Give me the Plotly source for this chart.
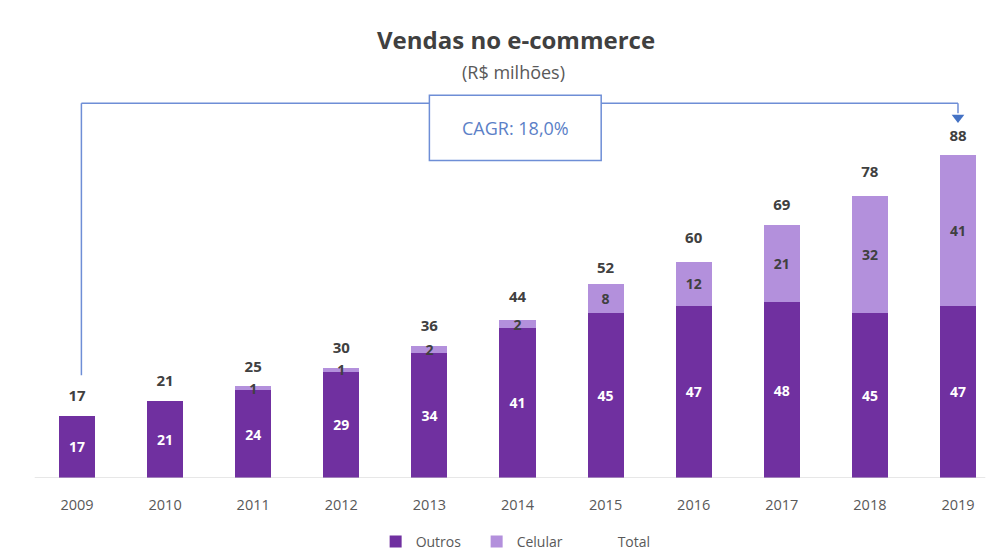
import plotly.graph_objects as go

# Vendas no e-commerce, R$ milhões
anos = [2009, 2010, 2011, 2012, 2013, 2014, 2015, 2016, 2017, 2018, 2019]
outros = [17, 21, 24, 29, 34, 41, 45, 47, 48, 45, 47]
celular = [0, 0, 1, 1, 2, 2, 8, 12, 21, 32, 41]
total = [17, 21, 25, 30, 36, 44, 52, 60, 69, 78, 88]
cagr_texto = "CAGR: 18,0%"

COR_OUTROS = "#7030A0"
COR_CELULAR = "#B390DC"
COR_LINHA = "#6E8ED6"
FONTE = "Open Sans"

# área do gráfico em pixels
ALTURA, MARGEM_T, MARGEM_B = 552, 60, 74
ALTURA_PLOT = ALTURA - MARGEM_T - MARGEM_B

fig = go.Figure()

fig.add_trace(go.Bar(
    x=anos, y=outros, name="Outros",
    marker=dict(color=COR_OUTROS, line=dict(width=0)),
    text=[str(v) for v in outros],
    textposition="inside", insidetextanchor="middle",
    textangle=0, constraintext="none",
    textfont=dict(color="white", size=14, family=FONTE, weight="bold"),
    width=0.41,
))

fig.add_trace(go.Bar(
    x=anos, y=celular, name="Celular",
    marker=dict(color=COR_CELULAR, line=dict(width=0)),
    text=[str(v) if v > 0 else "" for v in celular],
    textposition="inside", insidetextanchor="middle",
    textangle=0, constraintext="none",
    textfont=dict(color="#404040", size=14, family=FONTE, weight="bold"),
    width=0.41,
))

fig.add_trace(go.Scatter(
    x=anos, y=total, name="Total",
    mode="lines+markers+text",
    line=dict(width=0, color="rgba(0,0,0,0)"),
    marker=dict(size=16, opacity=0, color="white"),
    text=[str(v) for v in total],
    textposition="top center",
    textfont=dict(color="#404040", size=15, family=FONTE, weight="bold"),
    cliponaxis=False,
))

# linha de base do eixo
fig.add_shape(type="line", xref="x", yref="y",
              x0=anos[0] - 0.48, x1=anos[-1] + 0.31, y0=0, y1=0,
              line=dict(color="#D0D0D0", width=1.2))

# colchete do CAGR entre o primeiro e o último ano
topo = 102.2
fig.add_shape(type="line", xref="x", yref="y",
              x0=anos[0] + 0.05, x1=anos[0] + 0.05, y0=28, y1=topo,
              line=dict(color=COR_LINHA, width=1.5))
fig.add_shape(type="line", xref="x", yref="y",
              x0=anos[0] + 0.05, x1=anos[-1], y0=topo, y1=topo,
              line=dict(color=COR_LINHA, width=1.5))
fig.add_shape(type="line", xref="x", yref="y",
              x0=anos[-1], x1=anos[-1], y0=topo, y1=99.5,
              line=dict(color=COR_LINHA, width=1.5))
fig.add_trace(go.Scatter(
    x=[anos[-1]], y=[98.3], mode="markers", showlegend=False, hoverinfo="skip",
    marker=dict(symbol="triangle-down", size=11, color="#4472C4"),
    cliponaxis=False,
))
fig.add_shape(type="rect", xref="x", yref="y",
              x0=2013.0, x1=2014.95, y0=86.6, y1=104.4,
              line=dict(color=COR_LINHA, width=1.5), fillcolor="white")
fig.add_annotation(x=2013.975, y=95.5, xref="x", yref="y",
                   text=cagr_texto, showarrow=False,
                   font=dict(color="#5B7FC7", size=18, family=FONTE))

# título e subtítulo
fig.add_annotation(x=0.522, y=1 + (MARGEM_T - 40) / ALTURA_PLOT,
                   xref="paper", yref="paper", yanchor="middle",
                   text="<b>Vendas no e-commerce</b>", showarrow=False,
                   font=dict(color="#404040", size=24, family=FONTE))
fig.add_annotation(x=0.519, y=1 + (MARGEM_T - 72) / ALTURA_PLOT,
                   xref="paper", yref="paper", yanchor="middle",
                   text="(R$ milhões)", showarrow=False,
                   font=dict(color="#595959", size=18, family=FONTE))

fig.update_layout(
    width=989, height=ALTURA,
    margin=dict(l=0, r=0, t=MARGEM_T, b=MARGEM_B, autoexpand=False),
    paper_bgcolor="white", plot_bgcolor="white",
    barmode="stack",
    showlegend=True,
    legend=dict(orientation="h", x=0.533, xanchor="center",
                yref="container", y=(ALTURA - 542) / ALTURA, yanchor="middle",
                font=dict(color="#595959", size=14, family=FONTE),
                itemwidth=30, traceorder="normal",
                entrywidth=56, entrywidthmode="pixels",
                tracegroupgap=0),
    xaxis=dict(range=[anos[0] - 0.874, anos[-1] + 0.352],
               tickvals=anos, ticktext=[str(a) for a in anos],
               showgrid=False, zeroline=False, showline=False,
               ticks="outside", ticklen=14, tickcolor="rgba(0,0,0,0)",
               automargin=False,
               tickfont=dict(color="#595959", size=14.5, family=FONTE)),
    yaxis=dict(range=[0, 114], visible=False, showgrid=False, zeroline=False,
               automargin=False),
)

fig.write_html("out.html")
